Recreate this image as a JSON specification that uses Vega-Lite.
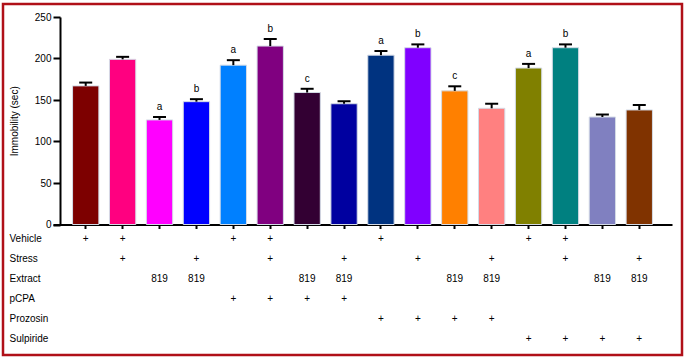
{
  "$schema": "https://vega.github.io/schema/vega-lite/v6.json",
  "width": 679,
  "height": 351,
  "autosize": "none",
  "padding": {"left": 3, "top": 4, "right": 6, "bottom": 5},
  "background": "white",
  "data": {
    "values": [
      {"id": 1, "mean": 167, "upper": 171, "letter": "", "Vehicle": "+", "Stress": "", "Extract": "", "pCPA": "", "Prozosin": "", "Sulpiride": ""},
      {"id": 2, "mean": 199, "upper": 202, "letter": "", "Vehicle": "+", "Stress": "+", "Extract": "", "pCPA": "", "Prozosin": "", "Sulpiride": ""},
      {"id": 3, "mean": 126, "upper": 129.5, "letter": "a", "Vehicle": "", "Stress": "", "Extract": "819", "pCPA": "", "Prozosin": "", "Sulpiride": ""},
      {"id": 4, "mean": 148, "upper": 151, "letter": "b", "Vehicle": "", "Stress": "+", "Extract": "819", "pCPA": "", "Prozosin": "", "Sulpiride": ""},
      {"id": 5, "mean": 192, "upper": 198, "letter": "a", "Vehicle": "+", "Stress": "", "Extract": "", "pCPA": "+", "Prozosin": "", "Sulpiride": ""},
      {"id": 6, "mean": 215, "upper": 223.5, "letter": "b", "Vehicle": "+", "Stress": "+", "Extract": "", "pCPA": "+", "Prozosin": "", "Sulpiride": ""},
      {"id": 7, "mean": 159, "upper": 163.5, "letter": "c", "Vehicle": "", "Stress": "", "Extract": "819", "pCPA": "+", "Prozosin": "", "Sulpiride": ""},
      {"id": 8, "mean": 145.5, "upper": 148.5, "letter": "", "Vehicle": "", "Stress": "+", "Extract": "819", "pCPA": "+", "Prozosin": "", "Sulpiride": ""},
      {"id": 9, "mean": 204, "upper": 209, "letter": "a", "Vehicle": "+", "Stress": "", "Extract": "", "pCPA": "", "Prozosin": "+", "Sulpiride": ""},
      {"id": 10, "mean": 213, "upper": 217, "letter": "b", "Vehicle": "", "Stress": "+", "Extract": "", "pCPA": "", "Prozosin": "+", "Sulpiride": ""},
      {"id": 11, "mean": 161, "upper": 166.5, "letter": "c", "Vehicle": "", "Stress": "", "Extract": "819", "pCPA": "", "Prozosin": "+", "Sulpiride": ""},
      {"id": 12, "mean": 140, "upper": 145.5, "letter": "", "Vehicle": "", "Stress": "+", "Extract": "819", "pCPA": "", "Prozosin": "+", "Sulpiride": ""},
      {"id": 13, "mean": 188.5, "upper": 193.5, "letter": "a", "Vehicle": "+", "Stress": "", "Extract": "", "pCPA": "", "Prozosin": "", "Sulpiride": "+"},
      {"id": 14, "mean": 213, "upper": 217, "letter": "b", "Vehicle": "+", "Stress": "+", "Extract": "", "pCPA": "", "Prozosin": "", "Sulpiride": "+"},
      {"id": 15, "mean": 129.5, "upper": 132.5, "letter": "", "Vehicle": "", "Stress": "", "Extract": "819", "pCPA": "", "Prozosin": "", "Sulpiride": "+"},
      {"id": 16, "mean": 138, "upper": 144, "letter": "", "Vehicle": "", "Stress": "+", "Extract": "819", "pCPA": "", "Prozosin": "", "Sulpiride": "+"}
    ]
  },
  "encoding": {
    "x": {
      "field": "id",
      "type": "ordinal",
      "scale": {"range": [50, 669], "paddingInner": 0.287, "paddingOuter": 0.53, "align": 0.5},
      "axis": {
        "orient": "bottom",
        "offset": -130.5,
        "title": null,
        "labels": false,
        "domainColor": "black",
        "domainWidth": 2,
        "tickColor": "black",
        "tickWidth": 2,
        "tickSize": 4,
        "grid": false
      }
    }
  },
  "layer": [
    {
      "layer": [
        {
          "mark": {"type": "bar", "stroke": "#d4dbe6", "strokeWidth": 1},
          "encoding": {
            "y": {
              "field": "mean",
              "type": "quantitative",
              "scale": {"domain": [0, 250], "range": [220.5, 13], "nice": false},
              "axis": {
                "orient": "left",
                "offset": -57,
                "values": [0, 50, 100, 150, 200, 250],
                "title": "Immobility (sec)",
                "titleFont": "Liberation Sans",
                "titleFontSize": 10,
                "titleFontWeight": "normal",
                "titleColor": "black",
                "titlePadding": 15,
                "labelFont": "Liberation Sans",
                "labelFontSize": 10,
                "labelColor": "black",
                "labelPadding": 2,
                "domainColor": "black",
                "domainWidth": 2,
                "tickColor": "black",
                "tickWidth": 2,
                "tickSize": 7,
                "grid": false
              }
            },
            "color": {
              "field": "id",
              "type": "nominal",
              "legend": null,
              "scale": {
                "domain": [1, 2, 3, 4, 5, 6, 7, 8, 9, 10, 11, 12, 13, 14, 15, 16],
                "range": ["#7d0000", "#ff0080", "#ff00ff", "#0000ff", "#0080ff", "#800080", "#330033", "#0000a0", "#003380", "#8000ff", "#ff8000", "#ff8080", "#808000", "#008080", "#8080c0", "#803300"]
              }
            }
          }
        },
        {
          "mark": {"type": "rule", "color": "black", "strokeWidth": 2},
          "encoding": {
            "y": {"field": "mean", "type": "quantitative"},
            "y2": {"field": "upper"}
          }
        },
        {
          "mark": {"type": "tick", "color": "black", "size": 13, "thickness": 2, "opacity": 1},
          "encoding": {
            "y": {"field": "upper", "type": "quantitative"}
          }
        },
        {
          "transform": [{"filter": "datum.letter != ''"}],
          "mark": {"type": "text", "font": "Liberation Sans", "fontSize": 10, "color": "black", "baseline": "middle", "dy": -10},
          "encoding": {
            "y": {"field": "upper", "type": "quantitative"},
            "text": {"field": "letter"}
          }
        }
      ]
    },
    {
      "transform": [
        {"fold": ["Vehicle", "Stress", "Extract", "pCPA", "Prozosin", "Sulpiride"], "as": ["row", "val"]},
        {"filter": "datum.val != ''"}
      ],
      "mark": {"type": "text", "font": "Liberation Sans", "fontSize": 10, "color": "black", "baseline": "middle"},
      "encoding": {
        "y": {
          "field": "row",
          "type": "nominal",
          "scale": {"type": "point", "domain": ["Vehicle", "Stress", "Extract", "pCPA", "Prozosin", "Sulpiride"], "range": [234.7, 334.7], "padding": 0},
          "axis": {
            "orient": "left",
            "offset": -6,
            "title": null,
            "domain": false,
            "ticks": false,
            "tickSize": 0,
            "labelPadding": 0,
            "labelAlign": "left",
            "labelBaseline": "middle",
            "labelFont": "Liberation Sans",
            "labelFontSize": 10,
            "labelColor": "black",
            "grid": false
          }
        },
        "text": {"field": "val"}
      }
    }
  ],
  "resolve": {"scale": {"y": "independent"}, "axis": {"y": "independent"}},
  "config": {
    "view": {"stroke": "#b01018", "strokeWidth": 2.5}
  }
}
